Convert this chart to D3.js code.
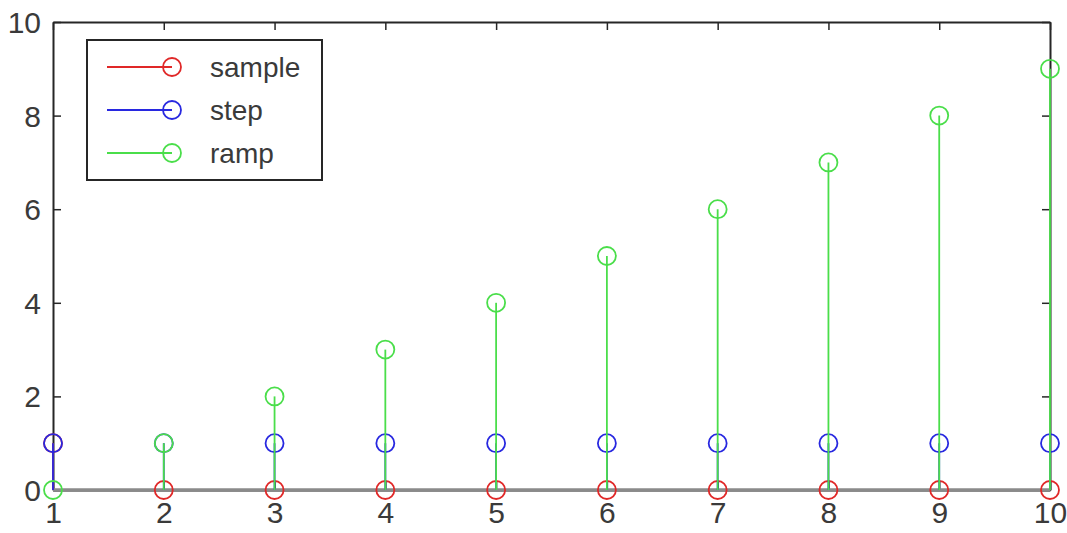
<!DOCTYPE html>
<html>
<head>
<meta charset="utf-8">
<script src="https://cdn.jsdelivr.net/npm/d3@7"></script>
<style>
  html, body { margin: 0; padding: 0; background: #fff; }
  svg { display: block; }
</style>
</head>
<body>
<svg id="chart" width="1067" height="533"></svg>
<script>
// ---- data ----
const n = [1, 2, 3, 4, 5, 6, 7, 8, 9, 10];
const sample = [1, 0, 0, 0, 0, 0, 0, 0, 0, 0];
const step = [1, 1, 1, 1, 1, 1, 1, 1, 1, 1];
const ramp = [0, 1, 2, 3, 4, 5, 6, 7, 8, 9];
const seriesNames = ["sample", "step", "ramp"];
const xTicks = [1, 2, 3, 4, 5, 6, 7, 8, 9, 10];
const yTicks = [0, 2, 4, 6, 8, 10];

const colors = { sample: "#e02828", step: "#2828e0", ramp: "#4ade4a" };
const series = [
  { name: "sample", values: sample },
  { name: "step", values: step },
  { name: "ramp", values: ramp }
];

const svg = d3.select("#chart");
const mLeft = 53, mRight = 1050, mTop = 22, mBottom = 490;
const x = d3.scaleLinear().domain([1, 10]).range([mLeft, mRight]);
const y = d3.scaleLinear().domain([0, 10]).range([mBottom, mTop]);

const font = "'Liberation Sans', Arial, sans-serif";
const axisColor = "#262626";
const tickLen = 8;

// axes box with inward ticks
const axB = svg.append("g").attr("transform", `translate(0,${mBottom})`)
  .call(d3.axisBottom(x).tickValues(xTicks).tickSizeInner(-tickLen).tickSizeOuter(0).tickPadding(12).tickFormat(d3.format("d")));
const axT = svg.append("g").attr("transform", `translate(0,${mTop})`)
  .call(d3.axisTop(x).tickValues(xTicks).tickSizeInner(-tickLen).tickSizeOuter(0).tickFormat(""));
const axL = svg.append("g").attr("transform", `translate(${mLeft},0)`)
  .call(d3.axisLeft(y).tickValues(yTicks).tickSizeInner(-tickLen).tickSizeOuter(0).tickPadding(12).tickFormat(d3.format("d")));
const axR = svg.append("g").attr("transform", `translate(${mRight},0)`)
  .call(d3.axisRight(y).tickValues(yTicks).tickSizeInner(-tickLen).tickSizeOuter(0).tickFormat(""));

[axB, axT, axL, axR].forEach(g => {
  g.select(".domain").attr("stroke", axisColor).attr("stroke-width", 2);
  g.selectAll(".tick line").attr("stroke", axisColor).attr("stroke-width", 1.5);
  g.selectAll("text").attr("fill", "#3a3a3a").style("font-family", font).style("font-size", "30px");
});
axB.selectAll("text").attr("dy", "0.71em");
axL.selectAll("text").attr("dy", "0.35em");

// baseline (stem base)
svg.append("line")
  .attr("x1", x(1)).attr("x2", x(10))
  .attr("y1", y(0)).attr("y2", y(0))
  .attr("stroke", "#8a8a8a").attr("stroke-width", 3.5);

// stems
const r = 9;
series.forEach(s => {
  const g = svg.append("g");
  const pts = n.map((v, i) => ({ n: v, v: s.values[i] }));
  g.selectAll("line.stem").data(pts).enter().append("line")
    .attr("class", "stem")
    .attr("x1", d => x(d.n)).attr("x2", d => x(d.n))
    .attr("y1", y(0)).attr("y2", d => y(d.v))
    .attr("stroke", colors[s.name]).attr("stroke-width", 1.8);
  g.selectAll("circle").data(pts).enter().append("circle")
    .attr("cx", d => x(d.n)).attr("cy", d => y(d.v)).attr("r", r)
    .attr("fill", "none").attr("stroke", colors[s.name]).attr("stroke-width", 1.8);
});

// legend
const lg = svg.append("g");
lg.append("rect")
  .attr("x", 87).attr("y", 40).attr("width", 235).attr("height", 140)
  .attr("fill", "#fff").attr("stroke", axisColor).attr("stroke-width", 2);
seriesNames.forEach((name, i) => {
  const cy = 67 + i * 43;
  lg.append("line").attr("x1", 107).attr("x2", 172).attr("y1", cy).attr("y2", cy)
    .attr("stroke", colors[name]).attr("stroke-width", 1.8);
  lg.append("circle").attr("cx", 172).attr("cy", cy).attr("r", r)
    .attr("fill", "none").attr("stroke", colors[name]).attr("stroke-width", 1.8);
  lg.append("text").attr("x", 210).attr("y", cy).attr("dy", "0.35em")
    .attr("fill", "#3a3a3a").style("font-family", font).style("font-size", "28px")
    .text(name);
});
</script>
</body>
</html>
